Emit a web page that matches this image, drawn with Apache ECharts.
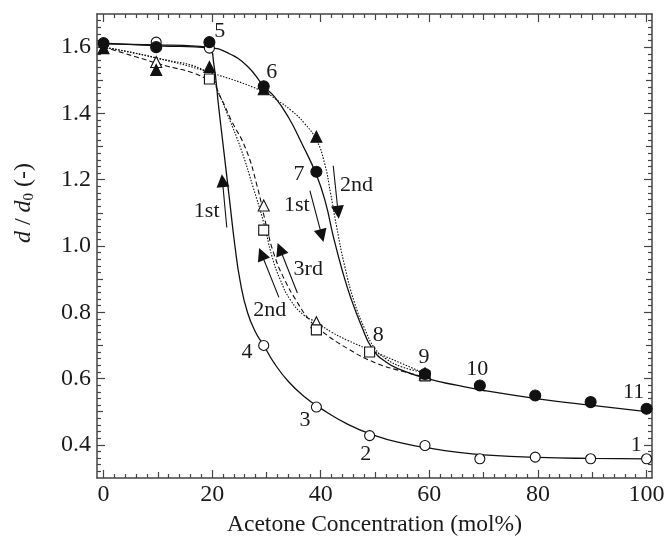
<!DOCTYPE html>
<html>
<head>
<meta charset="utf-8">
<script src="https://cdn.jsdelivr.net/npm/echarts@6/dist/echarts.min.js"></script>
<style>
  html, body { margin: 0; padding: 0; background: #ffffff; }
  #chart { width: 668px; height: 549px; }
</style>
</head>
<body>
<div id="chart"></div>
<script>
// Acetone concentration (mol%) at which each swelling ratio was measured
const conc = [0, 9.7, 19.5, 29.5, 39.2, 49, 59.2, 69.3, 79.5, 89.7, 100];

// d / d0 measurements (null = not measured / not shown in that run)
const openCircle     = [1.610, 1.615, 1.597, 0.700, 0.514, 0.428, 0.398, 0.358, 0.363, 0.358, 0.358];
const filledCircle   = [1.612, 1.600, 1.615, 1.482, 1.224, null, 0.614, 0.579, 0.549, 0.529, 0.509];
const filledTriangle = [1.597, 1.531, 1.540, 1.473, 1.330, null, 0.616, null, null, null, null];
const openTriangle   = [null, 1.555, null, 1.122, 0.770, null, 0.612, null, null, null, null];
const openSquare     = [null, null, 1.504, 1.048, 0.747, 0.680, 0.608, null, null, null, null];

// Fitted curves [concentration, d/d0]
const fitCycle1Dec = [[0,1.610],[10,1.607],[17,1.603],[19.5,1.596],[20.3,1.55],[21.2,1.42],[22.2,1.28],[23.2,1.14],[24.2,1.00],[25.2,0.89],[26.5,0.80],[28,0.74],[29.5,0.70],[31.5,0.645],[34,0.592],[37,0.545],[40,0.510],[45,0.462],[50,0.428],[55,0.405],[60,0.390],[65,0.378],[70,0.370],[80,0.362],[90,0.359],[100,0.358]];
const fitCycle1Inc = [[0,1.612],[10,1.604],[19.5,1.598],[22.7,1.584],[26.4,1.544],[29.5,1.482],[31.5,1.45],[34,1.39],[36.5,1.31],[39.2,1.215],[40.9,1.13],[42.3,1.03],[43.9,0.93],[45.6,0.84],[47.6,0.755],[49.5,0.69],[52,0.65],[55,0.625],[60,0.598],[65,0.580],[70,0.564],[80,0.539],[90,0.519],[100,0.500]];
const fitCycle2Inc = [[0,1.600],[9.7,1.567],[19.5,1.524],[29.5,1.466],[32,1.44],[34.5,1.41],[37,1.37],[39.2,1.32],[40.7,1.25],[41.8,1.16],[42.9,1.06],[44.4,0.94],[46.2,0.83],[48.1,0.75],[50,0.69],[52,0.66],[55,0.635],[59.2,0.618]];
const fitCycle2Dec = [[0,1.600],[9.7,1.568],[19.5,1.522],[21,1.47],[23,1.39],[25.3,1.293],[27.5,1.18],[29.5,1.07],[31,0.97],[32.5,0.90],[34.5,0.835],[37,0.79],[39.2,0.77],[42,0.74],[45,0.715],[50,0.68],[55,0.645],[59.2,0.615]];
const fitCycle3Dec = [[0,1.600],[9.7,1.552],[19.5,1.500],[21.5,1.45],[23.5,1.38],[26.2,1.293],[28.3,1.18],[30,1.06],[31.5,0.97],[33.3,0.90],[35.5,0.835],[38,0.775],[40,0.745],[45,0.69],[50,0.648],[55,0.622],[59.2,0.605]];

// Measurement order numbers
const orderLabels = [
  [98.1, 0.400, '1'], [48.3, 0.373, '2'], [37.1, 0.473, '3'], [26.4, 0.681, '4'],
  [21.4, 1.649, '5'], [31.0, 1.524, '6'], [36.0, 1.217, '7'], [50.6, 0.730, '8'],
  [59.0, 0.664, '9'], [68.8, 0.627, '10'], [97.6, 0.559, '11']
];

// Direction arrows [from, to] and their captions
const arrows = [
  [[22.7, 1.056], [21.9, 1.197]],
  [[38.0, 1.167], [40.2, 1.031]],
  [[42.3, 1.242], [43.2, 1.102]],
  [[35.7, 0.858], [32.5, 0.991]],
  [[32.3, 0.845], [29.1, 0.976]]
];
const arrowTexts = [
  [19.0, 1.106, '1st'], [35.6, 1.122, '1st'], [46.6, 1.184, '2nd'],
  [37.7, 0.929, '3rd'], [30.6, 0.805, '2nd']
];

// Tick values
const xMajor = [0, 20, 40, 60, 80, 100];
const xMid = [10, 30, 50, 70, 90];
const xMinor = [];
for (let v = 2; v < 100; v += 2) { if (v % 10 !== 0) xMinor.push(v); }
const yMajor = [0.4, 0.6, 0.8, 1.0, 1.2, 1.4, 1.6];
const yMid = [0.5, 0.7, 0.9, 1.1, 1.3, 1.5];
const yMinor = [];
for (let k = 16; k <= 84; k++) { if (k % 5 !== 0) yMinor.push(+(k * 0.02).toFixed(2)); }

const SERIF = '"Liberation Serif", "Times New Roman", serif';
const INK = '#1a1a1a';
const FRAME = '#444';

const X_MIN = -1.2, X_MAX = 101.0, Y_MIN = 0.3, Y_MAX = 1.7;

function xAx(position, ticks, len, showLine, showLabel) {
  return {
    type: 'value', position: position, min: X_MIN, max: X_MAX,
    axisLine: { show: showLine, onZero: false, lineStyle: { color: FRAME, width: 1.5 } },
    axisTick: { show: true, inside: true, length: len, customValues: ticks, lineStyle: { color: FRAME, width: 1.2 } },
    axisLabel: showLabel
      ? { show: true, customValues: ticks, margin: 5, color: INK, fontFamily: SERIF, fontSize: 24 }
      : { show: false },
    splitLine: { show: false }
  };
}
function yAx(position, ticks, len, showLine, showLabel) {
  return {
    type: 'value', position: position, min: Y_MIN, max: Y_MAX,
    axisLine: { show: showLine, onZero: false, lineStyle: { color: FRAME, width: 1.5 } },
    axisTick: { show: true, inside: true, length: len, customValues: ticks, lineStyle: { color: FRAME, width: 1.2 } },
    axisLabel: showLabel
      ? { show: true, customValues: ticks, margin: 6, color: INK, fontFamily: SERIF, fontSize: 24,
          formatter: v => v.toFixed(1) }
      : { show: false },
    splitLine: { show: false }
  };
}

function pts(values) {
  const out = [];
  values.forEach((v, i) => { if (v !== null) out.push([conc[i], v]); });
  return out;
}

function curve(data, type) {
  return {
    type: 'line', data: data, smooth: 0.5,
    symbol: 'none', silent: true, z: 2,
    lineStyle: { color: '#111', width: type === 'solid' ? 1.3 : 1.1, type: type === 'dashed' ? [5, 3] : (type === 'dotted' ? [1.5, 1.5] : 'solid') }
  };
}

function markers(values, symbol, size, filled, z) {
  return {
    type: 'scatter', data: pts(values), symbol: symbol, symbolSize: size, z: z,
    itemStyle: { color: filled ? '#111' : '#fff', borderColor: '#111', borderWidth: 1.1, opacity: 1 }
  };
}

const chart = echarts.init(document.getElementById('chart'), null, { renderer: 'canvas' });

chart.setOption({
  animation: false,
  backgroundColor: '#fff',
  grid: { left: 97, right: 16, top: 14, bottom: 71, containLabel: false },
  xAxis: [
    xAx('bottom', xMajor, 8, true, true),
    xAx('bottom', xMid, 6, false, false),
    xAx('bottom', xMinor, 4, false, false),
    xAx('top', xMajor, 8, true, false),
    xAx('top', xMid, 6, false, false),
    xAx('top', xMinor, 4, false, false)
  ],
  yAxis: [
    yAx('left', yMajor, 8, true, true),
    yAx('left', yMid, 6, false, false),
    yAx('left', yMinor, 4, false, false),
    yAx('right', yMajor, 8, true, false),
    yAx('right', yMid, 6, false, false),
    yAx('right', yMinor, 4, false, false)
  ],
  series: [
    curve(fitCycle1Dec, 'solid'),
    curve(fitCycle1Inc, 'solid'),
    curve(fitCycle2Inc, 'dotted'),
    curve(fitCycle2Dec, 'dotted'),
    curve(fitCycle3Dec, 'dashed'),
    markers(openCircle, 'circle', 10, false, 3),
    markers(openTriangle, 'triangle', 11, false, 4),
    markers(openSquare, 'rect', 10, false, 5),
    markers(filledTriangle, 'triangle', 11, true, 6),
    markers(filledCircle, 'circle', 11, true, 7),
    {
      type: 'lines', coordinateSystem: 'cartesian2d', z: 8, silent: true,
      symbol: ['none', 'triangle'], symbolSize: [5, 13],
      lineStyle: { color: '#111', width: 1.1, opacity: 1 },
      data: arrows.map(a => ({ coords: a }))
    }
  ]
});

// Annotation texts placed at data coordinates
const annotations = orderLabels.concat(arrowTexts).map(([x, y, t]) => {
  const p = chart.convertToPixel({ xAxisIndex: 0, yAxisIndex: 0 }, [x, y]);
  return {
    type: 'text', x: p[0], y: p[1], z: 100, silent: true,
    style: { text: t, fill: INK, font: '22px ' + SERIF, align: 'center', verticalAlign: 'middle' }
  };
});

chart.setOption({
  graphic: annotations.concat([
    {
      type: 'text', x: 374.5, y: 525, silent: true,
      style: { text: 'Acetone Concentration (mol%)', fill: INK, font: '23.5px ' + SERIF, align: 'center', verticalAlign: 'middle' }
    },
    {
      type: 'text', x: 24, y: 203, rotation: Math.PI / 2, silent: true,
      style: {
        text: '{i|d} / {i|d}{s|0} (-)', fill: INK, font: '24px ' + SERIF, align: 'center', verticalAlign: 'middle',
        rich: {
          i: { fontStyle: 'italic', fontFamily: SERIF, fontSize: 24, fill: INK },
          s: { fontFamily: SERIF, fontSize: 15, fill: INK, verticalAlign: 'bottom', padding: [10, 0, 0, 0] }
        }
      }
    }
  ])
});
</script>
</body>
</html>
